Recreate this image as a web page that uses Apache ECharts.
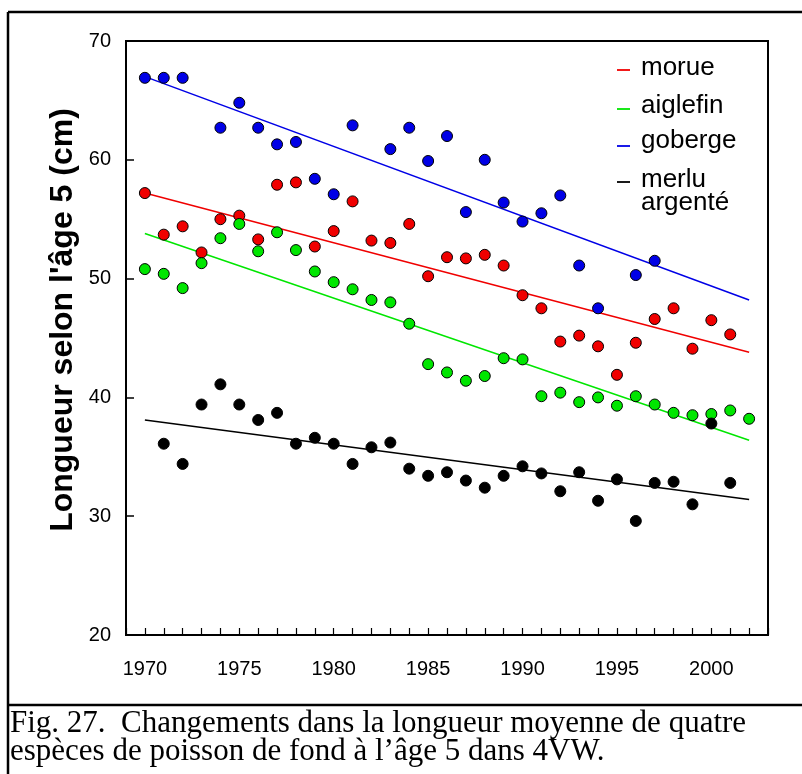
<!DOCTYPE html>
<html>
<head>
<meta charset="utf-8">
<script src="https://cdn.jsdelivr.net/npm/echarts@6/dist/echarts.min.js"></script>
<style>
html,body{margin:0;padding:0;background:#fff;}
#chart{width:802px;height:774px;}
</style>
</head>
<body>
<div id="chart"></div>
<script>
// ---- data ----
var years = [1970,1971,1972,1973,1974,1975,1976,1977,1978,1979,1980,1981,1982,1983,1984,1985,1986,1987,1988,1989,1990,1991,1992,1993,1994,1995,1996,1997,1998,1999,2000,2001,2002];
var morue = [57.2,53.7,54.4,52.2,55.0,55.3,53.3,57.9,58.1,52.7,54.0,56.5,53.2,53.0,54.6,50.2,51.8,51.7,52.0,51.1,48.6,47.5,44.7,45.2,44.3,41.9,44.6,46.6,47.5,44.1,46.5,45.3,null];
var aiglefin = [50.8,50.4,49.2,51.3,53.4,54.6,52.3,53.9,52.4,50.6,49.7,49.1,48.2,48.0,46.2,42.8,42.1,41.4,41.8,43.3,43.2,40.1,40.4,39.6,40.0,39.3,40.1,39.4,38.7,38.5,38.6,38.9,38.2];
var goberge = [66.9,66.9,66.9,null,62.7,64.8,62.7,61.3,61.5,58.4,57.1,62.9,null,60.9,62.7,59.9,62.0,55.6,60.0,56.4,54.8,55.5,57.0,51.1,47.5,null,50.3,51.5,null,null,null,null,null];
var merlu = [null,36.1,34.4,39.4,41.1,39.4,38.1,38.7,36.1,36.6,36.1,34.4,35.8,36.2,34.0,33.4,33.7,33.0,32.4,33.4,34.2,33.6,32.1,33.7,31.3,33.1,29.6,32.8,32.9,31.0,37.8,32.8,null];
// trend lines: [start year, end year] and values at those years
var trendYears = [1970, 2002];
var morueTrend = [57.2, 43.8];
var aiglefinTrend = [53.8, 36.4];
var gobergeTrend = [67.0, 48.2];
var merluTrend = [38.1, 31.4];
var legendNames = ['morue', 'aiglefin', 'goberge', 'merlu', 'argenté'];
var yTitle = "Longueur selon l'âge 5 (cm)";
var caption1 = "Fig. 27.  Changements dans la longueur moyenne de quatre";
var caption2 = "espèces de poisson de fond à l’âge 5 dans 4VW.";

var colors = {morue:'#f00000', aiglefin:'#00e600', goberge:'#0000e6', merlu:'#000000'};

function pts(vals){
  var out=[];
  for(var i=0;i<years.length;i++){ if(vals[i]!==null) out.push([years[i], vals[i]]); }
  return out;
}
function trend(vals){ return [[trendYears[0], vals[0]],[trendYears[1], vals[1]]]; }

function lineSeries(name, vals){
  return {type:'line', name:name+' tendance', data:trend(vals), symbol:'none', silent:true,
    lineStyle:{color:colors[name], width:1.5}, z:2, animation:false};
}
function scatterSeries(name, vals){
  return {type:'scatter', name:name, data:pts(vals), symbol:'circle', symbolSize:11,
    itemStyle:{color:colors[name], borderColor:'#000', borderWidth:1, opacity:1}, z:3, animation:false};
}

var chart = echarts.init(document.getElementById('chart'), null, {renderer:'canvas'});
var sans = 'Liberation Sans, Arial, sans-serif';
var serifFont = '31px "Liberation Serif", "Times New Roman", serif';
var legendX = 641, dashX1 = 617, dashX2 = 630;
var legendMid = [68, 106, 141, 180, 203];
var dashY = [70, 109, 146, 182];
var legendColors = [colors.morue, colors.aiglefin, colors.goberge, colors.merlu];

var graphics = [
  // outer frame
  {type:'line', shape:{x1:8, y1:12, x2:802, y2:12}, style:{stroke:'#000', lineWidth:2.5}},
  {type:'line', shape:{x1:8, y1:12, x2:8, y2:774}, style:{stroke:'#000', lineWidth:2.5}},
  {type:'line', shape:{x1:8, y1:705, x2:802, y2:705}, style:{stroke:'#000', lineWidth:2.5}},
  {type:'text', x:10, y:724, style:{text:caption1, font:serifFont, fill:'#000', textVerticalAlign:'middle'}},
  {type:'text', x:10, y:752, style:{text:caption2, font:serifFont, fill:'#000', textVerticalAlign:'middle'}},
  {type:'text', x:63, y:320, rotation:Math.PI/2, style:{text:yTitle, font:'bold 32px "Liberation Sans", Arial, sans-serif', fill:'#000', textAlign:'center', textVerticalAlign:'middle'}}
];
for(var k=0;k<4;k++){
  graphics.push({type:'line', shape:{x1:dashX1, y1:dashY[k], x2:dashX2, y2:dashY[k]}, style:{stroke:legendColors[k], lineWidth:1.8}});
}
for(var j=0;j<legendNames.length;j++){
  graphics.push({type:'text', x:legendX, y:legendMid[j], style:{text:legendNames[j], font:'26px "Liberation Sans", Arial, sans-serif', fill:'#000', textVerticalAlign:'middle'}});
}

chart.setOption({
  backgroundColor:'#fff',
  animation:false,
  grid:{left:126, top:41, right:34, bottom:139, show:true, borderColor:'#000', borderWidth:2, backgroundColor:'transparent'},
  xAxis:{type:'value', min:1969, max:2003, interval:1,
    axisLine:{show:true, lineStyle:{color:'#000', width:2}},
    axisTick:{show:true, inside:true, length:7, lineStyle:{color:'#000', width:1.2}},
    axisLabel:{margin:24, fontSize:20, fontFamily:sans, color:'#000',
      formatter:function(v){ return (v%5===0) ? String(v) : ''; }},
    splitLine:{show:false}},
  yAxis:{type:'value', min:20, max:70, interval:10,
    axisLine:{show:true, lineStyle:{color:'#000', width:2}},
    axisTick:{show:true, inside:true, length:8, lineStyle:{color:'#000', width:1.5}},
    axisLabel:{margin:15, fontSize:20, fontFamily:sans, color:'#000'},
    splitLine:{show:false}},
  graphic:graphics,
  series:[
    lineSeries('morue', morueTrend),
    lineSeries('aiglefin', aiglefinTrend),
    lineSeries('goberge', gobergeTrend),
    lineSeries('merlu', merluTrend),
    scatterSeries('morue', morue),
    scatterSeries('aiglefin', aiglefin),
    scatterSeries('goberge', goberge),
    scatterSeries('merlu', merlu)
  ]
});
</script>
</body>
</html>
